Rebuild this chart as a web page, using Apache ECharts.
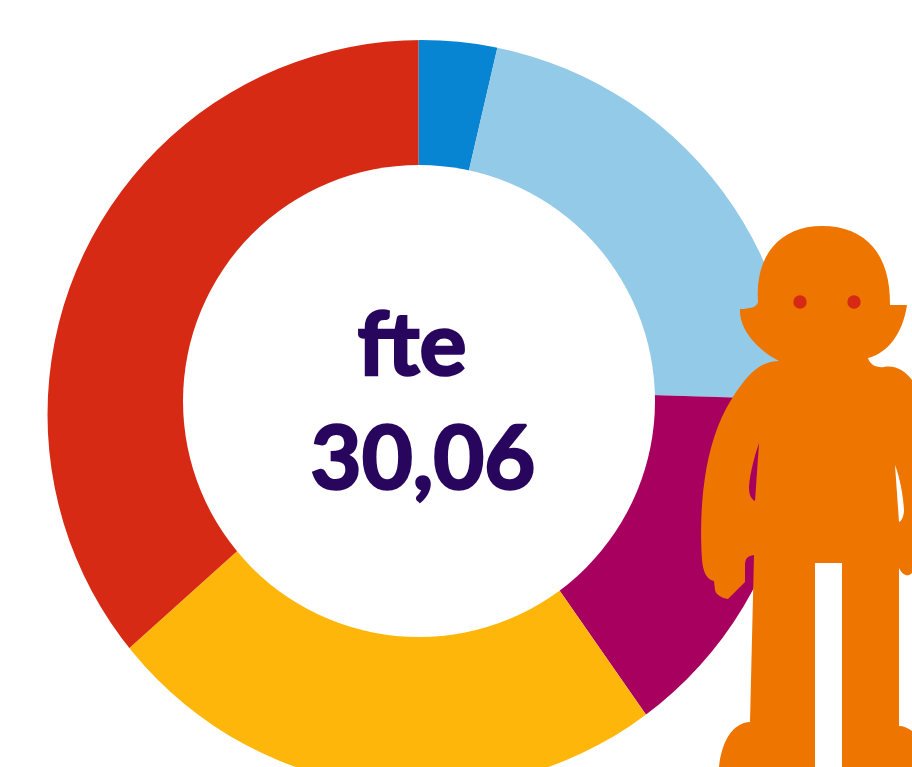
<!DOCTYPE html>
<html>
<head>
<meta charset="utf-8">
<style>
  html, body { margin: 0; padding: 0; background: #fff; overflow: hidden; }
  #main { width: 912px; height: 767px; }
</style>
<script src="https://cdn.jsdelivr.net/npm/echarts@6/dist/echarts.min.js"></script>
</head>
<body>
<div id="main"></div>
<script>
// share of fte per group, clockwise from the top
var values = [1.09, 6.57, 4.46, 6.92, 11.02];
var colors = ['#0785d3', '#92cae8', '#a8005e', '#ffb60b', '#d62a15'];
var unitLabel = 'fte';
var totalLabel = '30,06';

// pictogram next to the ring, the second and third subpath are the gaps under the arms
var personPath =
  'M890 305 L907 305 C903 333 888 353 868 358 C870 365 877 368 884 367 C896 365 905 371 912 380 ' +
  'L912 573 C908 577 903 576 899 568 L899 726 C904 726 908 728 912 731 L912 767 L842 767 L842 563 ' +
  'L815 563 L815 767 L719 767 C722 740 733 723 750 722 L754 555 C748 556 745 558 745 565 L745 582 ' +
  'L728 599 C722 598 716 595 715 590 L714 581 C707 580 703 572 702 560 C699 510 703 445 731 400 ' +
  'C745 378 758 361 779 361 C758 350 739 330 740 309 C750 309 757 307 758 302 ' +
  'C755 255 780 226 822 226 C866 226 891 255 890 305 Z ' +
  'M759 443 C755 455 750 472 749 487 C749 495 751 499 755 501 Z ' +
  'M895 465 L899 522 C902 521 904 515 904 510 C903 495 900 478 895 465 Z';

// the ring in the picture is not concentric, so the pie is cut to shape by two white masks
function renderOverlay() {
  return {
    type: 'group',
    children: [
      { type: 'ring', shape: { cx: 422, cy: 414.5, r: 1300, r0: 374.5 }, style: { fill: '#fff' } },
      { type: 'circle', shape: { cx: 419, cy: 401, r: 236 }, style: { fill: '#fff' } },
      { type: 'path', shape: { pathData: personPath }, style: { fill: '#ed7500' } },
      { type: 'circle', shape: { cx: 800, cy: 302, r: 6.7 }, style: { fill: '#d62a15' } },
      { type: 'circle', shape: { cx: 854, cy: 302, r: 6.7 }, style: { fill: '#d62a15' } }
    ]
  };
}

var myChart = echarts.init(document.getElementById('main'), null, { renderer: 'canvas' });
myChart.setOption({
  animation: false,
  series: [{
    type: 'pie',
    center: [418.5, 388],
    radius: [0, 415],
    startAngle: 90,
    clockwise: true,
    silent: true,
    label: { show: false },
    labelLine: { show: false },
    itemStyle: { borderWidth: 0 },
    data: values.map(function (v, i) {
      return { value: v, itemStyle: { color: colors[i] } };
    })
  }, {
    type: 'custom',
    coordinateSystem: 'none',
    silent: true,
    z: 5,
    data: [0],
    renderItem: renderOverlay
  }],
  graphic: [
    {
      type: 'text', z: 12, silent: true,
      style: {
        text: unitLabel, x: 412, y: 303, textAlign: 'center',
        font: 'bold 88px Lato', fill: '#29065e', stroke: '#29065e', lineWidth: 2.5
      }
    },
    {
      type: 'text', z: 12, silent: true,
      style: {
        text: totalLabel, x: 423, y: 417, textAlign: 'center',
        font: 'bold 88px Lato', fill: '#29065e', stroke: '#29065e', lineWidth: 2.5
      }
    }
  ]
});
</script>
</body>
</html>
